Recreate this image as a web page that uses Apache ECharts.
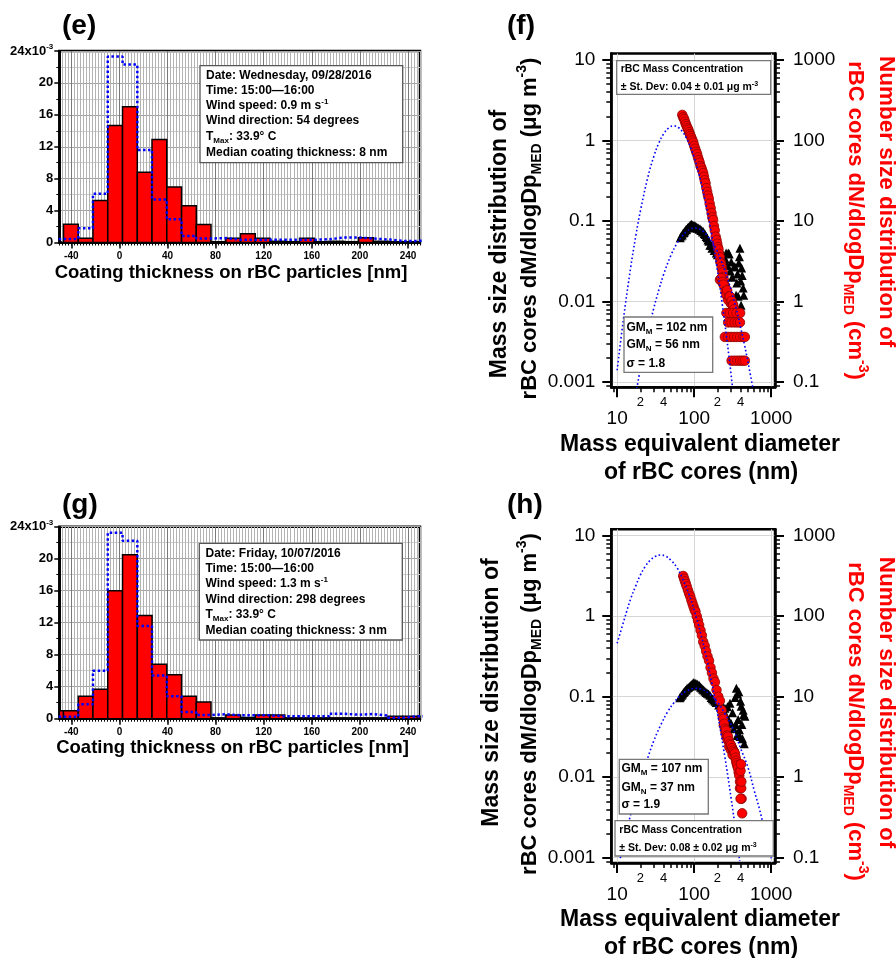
<!DOCTYPE html>
<html>
<head>
<meta charset="utf-8">
<script src="https://cdn.jsdelivr.net/npm/echarts@6/dist/echarts.min.js"></script>
<style>
html,body{margin:0;padding:0;background:#fff;}
#c{width:896px;height:958px;}
</style>
</head>
<body>
<div id="c"></div>
<script>
const FF = '"Liberation Sans", Arial, Helvetica, sans-serif';

// ---------- coating thickness histograms ----------
const binLeft = [-58.8, -46.5, -34.2, -22.0, -9.7, 2.6, 14.9, 27.1, 39.4, 51.7, 63.9, 76.2, 88.5,
  100.7, 113.0, 125.3, 137.5, 149.8, 162.1, 174.3, 186.6, 198.9, 211.1, 223.4, 235.7, 247.9];
const binWidth = 12.27;
// fraction of particles per bin (x10^-3)
const coatingE = [0, 2.3, 0.54, 5.25, 14.67, 17.0, 8.8, 12.9, 6.96, 4.6, 2.25, 0.1, 0.54,
  1.1, 0.54, 0.15, 0.1, 0.54, 0.1, 0.15, 0.1, 0.6, 0.15, 0.1, 0.1, 0.1];
const campaignE = [0.45, 0.45, 1.8, 6.1, 23.3, 22.3, 11.6, 5.4, 2.9, 0.83, 0.5, 0.55, 0.35,
  0.35, 0.35, 0.35, 0.35, 0.35, 0.4, 0.62, 0.62, 0.5, 0.38, 0.2, 0.2, 0.25];
const coatingG = [1.0, 1.0, 2.8, 3.67, 16.0, 20.5, 12.9, 6.8, 5.5, 2.8, 2.1, 0.1, 0.45,
  0.15, 0.45, 0.45, 0.1, 0.1, 0.1, 0.1, 0.1, 0.1, 0.1, 0.3, 0.3, 0.3];
const campaignG = [0.25, 0.25, 1.8, 6.0, 23.25, 22.25, 11.6, 5.4, 2.8, 0.83, 0.46, 0.55, 0.42,
  0.42, 0.42, 0.3, 0.3, 0.3, 0.3, 0.62, 0.5, 0.58, 0.38, 0.12, 0.3, 0.3];
const coatingTicks = [-40, 0, 40, 80, 120, 160, 200, 240];

const infoE = ['Date: Wednesday, 09/28/2016', 'Time: 15:00\u201416:00', 'Wind speed: 0.9 m s{p|-1}',
  'Wind direction: 54 degrees', 'T{s|Max}: 33.9\u00b0 C', 'Median coating thickness: 8 nm'];
const infoG = ['Date: Friday, 10/07/2016', 'Time: 15:00\u201416:00', 'Wind speed: 1.3 m s{p|-1}',
  'Wind direction: 298 degrees', 'T{s|Max}: 33.9\u00b0 C', 'Median coating thickness: 3 nm'];

// ---------- rBC core size distributions ----------
// [diameter nm, dN/dlogDp cm^-3]
const fCore = [[70,208],[72,194],[74,185],[76,171],[78,160],[80,151],[82,142],[84,136],[86,127],[88,120],
  [90,114],[92.5,106.5],[95,100],[97.5,94],[100,86],[103,79],[106,72.5],[109,68],[112,61.8],[115,57.1],
  [118,53],[121,48],[124,45.8],[127.5,42.2],[131,39.3],[134,35.5],[137,32.1],[140.5,29.5],[144,25.7],
  [147.5,23.0],[151,20.7],[155,18.9],[159,16.4],[163.5,14.5],[168,12.6],[172,11.1],[176,10.3],[180.5,8.67],
  [185,7.65],[190,6.4],[195,5.8],[199,5.24],[203,4.74],[207,4.45],[211,3.91],[215,3.56],[219,3.1],
  [223,2.97],[227,2.7],[231,2.45],[235,2.3],[239,2.02],[243,1.84],[247,1.6],[251,1.54],
  [216,1.86],[225,1.95],[233,1.75],[240,1.62],[255,1.35],[262,1.2],[268,1.38],[275,1.05],[282,1.16],
  [290,1.16],[298,0.95],[306,1.02],[314,0.91],[321,0.91],[330,0.8],
  [262,0.72],[290,0.72],[320,0.72],[355,0.72],[395,0.72],
  [276,0.55],[305,0.55],[335,0.55],[365,0.55],[393,0.55],
  [250,0.363],[275,0.363],[300,0.363],[330,0.363],[360,0.363],[395,0.363],[430,0.363],[455,0.363],
  [306,0.184],[335,0.184],[365,0.184],[395,0.184],[425,0.184],[455,0.184]];
// [diameter nm, dM/dlogDp ug m^-3]
const fMass = [[66,0.062],[68,0.065],[70,0.067],[72,0.071],[74,0.072],[76,0.075],[78,0.078],[80,0.079],
  [82,0.082],[84,0.084],[86,0.083],[88,0.087],[90,0.089],[92,0.091],[94,0.087],[96,0.089],[98,0.086],
  [100,0.088],[102,0.084],[104,0.086],[106,0.082],[108,0.084],[110,0.081],[113,0.082],[116,0.079],
  [119,0.080],[122,0.076],[125,0.077],[128,0.073],[131,0.074],[135,0.070],[139,0.068],[143,0.064],
  [147,0.062],[151,0.058],[155,0.056],[160,0.050],[165,0.050],[170,0.046],[176,0.047],[182,0.043],
  [188,0.044],[194,0.040],[200,0.038],[207,0.040],[214,0.035],[221,0.036],[228,0.032],[236,0.038],
  [244,0.030],[252,0.034],[260,0.040],[268,0.028],[277,0.040],[285,0.039],[294,0.024],[303,0.031],
  [312,0.020],[321,0.0079],[330,0.027],[338,0.027],[345,0.0055],[350,0.012],[358,0.017],[365,0.022],
  [372,0.0116],[380,0.030],[387,0.036],[393,0.046],[400,0.018],[406,0.009],[413,0.026],[420,0.021],
  [432,0.0147],[440,0.012]];
const fMassFit = [[18,0.00083],[20,0.00144],[25,0.00403],[30,0.00835],[35,0.0142],[40,0.0215],[50,0.0377],
  [60,0.0531],[70,0.065],[80,0.0746],[90,0.080],[102,0.0817],[115,0.080],[130,0.0747],[150,0.065],
  [170,0.0551],[195,0.044],[220,0.0334],[260,0.022],[300,0.014],[350,0.0083],[400,0.0048],[450,0.0029],
  [500,0.00176],[580,0.00083]];
const fNumFit = [[10,0.14],[12,0.58],[15,2.66],[17.5,6.6],[20,13.2],[25,34.8],[30,63.8],[35,94.4],[40,120],
  [47,144],[55,152],[63,144],[70,130],[80,106],[90,82],[100,61.8],[115,38.9],[130,24],[150,12.5],
  [170,6.5],[200,2.46],[230,0.97],[260,0.40],[290,0.17],[315,0.085]];

const hCore = [[72,316],[74,292],[76,271],[78,252],[80,234],[83,211],[86,191],[89,176],[92,158],[95,144],
  [98,132],[101,121],[104,114],[108,100],[112,88],[116,77.5],[121,66.6],[126,57.7],[131,48],[137,42.8],
  [143,36.7],[149,31.7],[156,28],[163,23.0],[170,19.8],[178,16.8],[186,15.2],[195,12.1],[206,10.0],
  [216,8.9],[227,6.8],[235,5.6],[238,5.3],[242,4.4],[245,4.6],[251,4.0],[255,3.6],[258,3.8],[262,3.2],
  [266,3.3],[272,2.9],[275,3.2],[283,2.8],[285,2.4],[291,2.6],[298,2.2],[300,2.5],[310,2.3],[315,1.9],
  [320,2.15],[330,2.05],[338,1.97],[345,1.75],[350,1.6],[355,1.49],[362,1.4],[370,1.3],[378,1.15],
  [385,1.05],[393,0.88],[400,1.2],[405,1.45],[393,0.73],[408,0.73],[413,0.54],[400,0.54],[420,0.356],
  [410,0.88]];
const hMass = [[65,0.097],[67,0.100],[69,0.104],[71,0.108],[73,0.113],[75,0.116],[77,0.120],[79,0.122],
  [81,0.127],[84,0.130],[87,0.134],[90,0.138],[93,0.142],[96,0.146],[99,0.150],[102,0.144],[105,0.147],
  [108,0.141],[111,0.143],[114,0.136],[117,0.138],[121,0.131],[125,0.128],[129,0.124],[133,0.121],
  [138,0.117],[143,0.113],[148,0.110],[154,0.108],[160,0.104],[166,0.098],[172,0.094],[179,0.091],
  [186,0.088],[193,0.085],[200,0.089],[208,0.079],[216,0.083],[224,0.071],[233,0.077],[242,0.064],
  [251,0.072],[261,0.058],[271,0.075],[281,0.051],[292,0.083],[303,0.046],[315,0.063],[327,0.040],
  [335,0.024],[340,0.098],[347,0.045],[353,0.127],[360,0.033],[366,0.108],[373,0.052],[380,0.115],
  [387,0.039],[393,0.032],[400,0.088],[408,0.076],[416,0.045],[424,0.030],[432,0.068],[440,0.060],
  [447,0.026],[455,0.057]];
const hMassFit = [[11,0.00099],[12,0.00143],[15,0.00344],[20,0.00927],[25,0.0175],[30,0.0285],[37,0.045],
  [45,0.0643],[55,0.085],[65,0.102],[80,0.118],[105,0.127],[130,0.122],[160,0.107],[200,0.086],
  [250,0.0616],[320,0.040],[400,0.0229],[500,0.0132],[600,0.0069],[700,0.0041],[790,0.00256],
  [900,0.0015],[1000,0.00098]];
const hNumFit = [[10,46],[12.5,94],[15,165],[17.5,240],[20,324],[23,410],[27,497],[31,550],[36.6,575],
  [43,555],[50,494],[60,400],[70,299],[85,190],[100,119],[120,64],[140,34.8],[170,14.6],[200,6.38],
  [225,3.3],[250,1.8],[275,1.0],[300,0.57],[330,0.3],[355,0.18],[390,0.091]];

const diamTicks = [10, 100, 1000];
const diamDigitTicks = [20, 40, 200, 400];
const massTicks = [0.001, 0.01, 0.1, 1, 10];
const numTicks = [0.1, 1, 10, 100, 1000];

// ---------- helpers ----------
function fineTicks(lo, hi, step) {
  const out = [];
  for (let v = lo; v <= hi + 1e-9; v += step) out.push(+v.toFixed(3));
  return out;
}
function logMinorTicks(lo, hi) {
  const out = [];
  for (let e = -5; e <= 4; e++) {
    for (let m = 2; m <= 9; m++) {
      const v = +(m * Math.pow(10, e)).toPrecision(3);
      if (v >= lo && v <= hi) out.push(v);
    }
  }
  return out;
}
const numFmt = v => String(+(+v).toPrecision(4));
const digitFmt = v => String(Math.round(v / Math.pow(10, Math.floor(Math.log10(v) + 1e-9))));

const grid = [
  {left: 59.3, top: 51, width: 360.7, height: 191.5},
  {left: 59.3, top: 526.7, width: 360.7, height: 192},
  {left: 611.3, top: 53.6, width: 163.7, height: 333.7},
  {left: 611.3, top: 529.3, width: 163.7, height: 333.7}
].map(g => Object.assign({show: true, borderColor: '#000', borderWidth: 2.5, backgroundColor: '#fff',
  containLabel: false, outerBoundsMode: 'none'}, g));

const xAxis = [], yAxis = [], series = [];
const blk = '#000';

function histPanel(gi, counts, campaign) {
  const xi = xAxis.length;
  const xBase = {type: 'value', gridIndex: gi, min: -50, max: 250, position: 'bottom'};
  xAxis.push(Object.assign({}, xBase, {
    axisLine: {show: true, onZero: false, lineStyle: {color: blk, width: 2}},
    axisTick: {show: true, customValues: fineTicks(-50, 250, 2.5), length: 3, lineStyle: {color: blk, width: 1}},
    axisLabel: {show: true, customValues: coatingTicks, margin: 9, color: blk, fontFamily: FF, fontWeight: 'bold', fontSize: 10},
    splitLine: {show: true, customValues: fineTicks(-50, 250, 2.5), lineStyle: {color: '#b2b2b2', width: 1}}
  }));
  xAxis.push(Object.assign({}, xBase, {
    axisLine: {show: false, onZero: false},
    axisTick: {show: true, customValues: coatingTicks, length: 6, lineStyle: {color: blk, width: 1.5}},
    axisLabel: {show: false},
    splitLine: {show: true, customValues: coatingTicks, lineStyle: {color: '#7a7a7a', width: 1}}
  }));
  const yi = yAxis.length;
  yAxis.push({
    type: 'value', gridIndex: gi, min: 0, max: 24, interval: 4, position: 'left',
    axisLine: {show: true, onZero: false, lineStyle: {color: blk, width: 2}},
    axisTick: {show: true, length: 5, lineStyle: {color: blk, width: 1.5}},
    minorTick: {show: true, splitNumber: 2, length: 3, lineStyle: {color: blk, width: 1}},
    axisLabel: {
      margin: 6, color: blk, fontFamily: FF, fontWeight: 'bold', fontSize: 13,
      formatter: v => v === 24 ? '{a|24x10}{b|-3}' : String(v),
      rich: {
        a: {fontFamily: FF, fontWeight: 'bold', fontSize: 13, color: blk, lineHeight: 16},
        b: {fontFamily: FF, fontWeight: 'bold', fontSize: 8, color: blk, lineHeight: 8, verticalAlign: 'top'}
      }
    },
    splitLine: {show: true, lineStyle: {color: '#a0a0a0', width: 1}},
    minorSplitLine: {show: true, lineStyle: {color: '#cccccc', width: 1}}
  });
  series.push({
    type: 'custom', xAxisIndex: xi, yAxisIndex: yi, z: 3,
    data: binLeft.map((x, i) => [x, counts[i]]),
    encode: {x: 0, y: 1},
    renderItem(params, api) {
      const x0 = api.value(0), v = api.value(1);
      const p0 = api.coord([x0, v]);
      const p1 = api.coord([x0 + binWidth, 0]);
      const cs = params.coordSys;
      const r = echarts.graphic.clipRectByRect(
        {x: p0[0], y: p0[1], width: p1[0] - p0[0], height: p1[1] - p0[1]},
        {x: cs.x, y: cs.y, width: cs.width, height: cs.height});
      if (!r) return null;
      return {type: 'rect', shape: r, style: {fill: '#ff0000', stroke: blk, lineWidth: 1.5}};
    }
  });
  const last = binLeft.length - 1;
  series.push({
    type: 'line', xAxisIndex: xi, yAxisIndex: yi, z: 5, step: 'end', symbol: 'none', silent: true,
    data: binLeft.map((x, i) => [x, campaign[i]]).concat([[binLeft[last] + binWidth, campaign[last]]]),
    lineStyle: {color: '#0000ff', width: 2.5, type: [2.5, 2.5]}
  });
}

function sizePanel(gi, massPts, corePts, massFit, numFit) {
  const xi = xAxis.length;
  const xBase = {type: 'log', logBase: 10, gridIndex: gi, min: 8.4, max: 1120, position: 'bottom'};
  xAxis.push(Object.assign({}, xBase, {
    axisLine: {show: true, onZero: false, lineStyle: {color: blk, width: 2.5}},
    axisTick: {show: true, customValues: diamTicks, length: 10, lineStyle: {color: blk, width: 2}},
    axisLabel: {show: true, customValues: diamTicks, margin: 22, color: blk, fontFamily: FF, fontSize: 19, formatter: numFmt},
    splitLine: {show: true, customValues: diamTicks, lineStyle: {color: '#d6d6d6', width: 1}}
  }));
  xAxis.push(Object.assign({}, xBase, {
    axisLine: {show: false, onZero: false},
    axisTick: {show: true, customValues: logMinorTicks(8.4, 1120), length: 5, lineStyle: {color: blk, width: 1.5}},
    axisLabel: {show: true, customValues: diamDigitTicks, margin: 9, color: blk, fontFamily: FF, fontSize: 13, formatter: digitFmt},
    splitLine: {show: false}
  }));
  const yl = yAxis.length;
  const lBase = {type: 'log', logBase: 10, gridIndex: gi, min: 0.00086, max: 12, position: 'left'};
  const rBase = {type: 'log', logBase: 10, gridIndex: gi, min: 0.086, max: 1200, position: 'right'};
  yAxis.push(Object.assign({}, lBase, {
    axisLine: {show: true, onZero: false, lineStyle: {color: blk, width: 2.5}},
    axisTick: {show: true, customValues: massTicks, length: 9, lineStyle: {color: blk, width: 2}},
    axisLabel: {show: true, customValues: massTicks, margin: 16, color: blk, fontFamily: FF, fontSize: 19, formatter: numFmt},
    splitLine: {show: true, customValues: massTicks, lineStyle: {color: '#d6d6d6', width: 1}}
  }));
  yAxis.push(Object.assign({}, lBase, {
    axisLine: {show: false, onZero: false},
    axisTick: {show: true, customValues: logMinorTicks(0.00086, 12), length: 5, lineStyle: {color: blk, width: 1.5}},
    axisLabel: {show: false}, splitLine: {show: false}
  }));
  yAxis.push(Object.assign({}, rBase, {
    axisLine: {show: true, onZero: false, lineStyle: {color: blk, width: 2.5}},
    axisTick: {show: true, customValues: numTicks, length: 9, lineStyle: {color: blk, width: 2}},
    axisLabel: {show: true, customValues: numTicks, margin: 18, color: blk, fontFamily: FF, fontSize: 19, formatter: numFmt},
    splitLine: {show: false}
  }));
  yAxis.push(Object.assign({}, rBase, {
    axisLine: {show: false, onZero: false},
    axisTick: {show: true, customValues: logMinorTicks(0.086, 1200), length: 5, lineStyle: {color: blk, width: 1.5}},
    axisLabel: {show: false}, splitLine: {show: false}
  }));
  series.push({type: 'scatter', xAxisIndex: xi, yAxisIndex: yl, z: 2, data: massPts,
    symbol: 'triangle', symbolSize: 9, itemStyle: {color: '#000', opacity: 1}});
  series.push({type: 'scatter', xAxisIndex: xi, yAxisIndex: yl + 2, z: 3, data: corePts,
    symbol: 'circle', symbolSize: 9.5, itemStyle: {color: '#ff0000', borderColor: '#8a0000', borderWidth: 0.8, opacity: 1}});
  const fitLine = {color: '#0000ff', width: 1.6, type: [1.6, 2.4]};
  series.push({type: 'line', xAxisIndex: xi, yAxisIndex: yl, z: 4, data: massFit, smooth: 0.4,
    symbol: 'none', silent: true, lineStyle: fitLine});
  series.push({type: 'line', xAxisIndex: xi, yAxisIndex: yl + 2, z: 4, data: numFit, smooth: 0.4,
    symbol: 'none', silent: true, lineStyle: fitLine});
}

histPanel(0, coatingE, campaignE);
histPanel(1, coatingG, campaignG);
sizePanel(2, fMass, fCore, fMassFit, fNumFit);
sizePanel(3, hMass, hCore, hMassFit, hNumFit);

// ---------- text elements ----------
function richSet(size, color, weight) {
  const sub = Math.round(size * 0.64);
  return {
    s: {font: weight + ' ' + sub + 'px ' + FF, fill: color, lineHeight: sub, verticalAlign: 'bottom'},
    p: {font: weight + ' ' + sub + 'px ' + FF, fill: color, lineHeight: sub, verticalAlign: 'top'}
  };
}
function txt(x, y, text, size, o) {
  o = o || {};
  const color = o.color || '#000', weight = o.weight || 'bold';
  return {type: 'text', x: x, y: y, rotation: o.rot || 0, z: 100, silent: true,
    style: {text: text, fill: color, font: weight + ' ' + size + 'px ' + FF, lineHeight: Math.round(size * 1.3),
      align: o.align || 'left', verticalAlign: 'middle', rich: richSet(size, color, weight)}};
}
function box(x, y, w, h, stroke) {
  return {type: 'rect', z: 90, silent: true, shape: {x: x, y: y, width: w, height: h},
    style: {fill: '#fff', stroke: stroke || '#555', lineWidth: 1.3}};
}

const G = [];
// panel letters
G.push(txt(62, 26, '(e)', 28), txt(507, 26, '(f)', 28), txt(62, 505.5, '(g)', 28), txt(507, 505.5, '(h)', 28));
// histogram axis titles
G.push(txt(231, 272.7, 'Coating thickness on rBC particles [nm]', 18.5, {align: 'center'}));
G.push(txt(232.5, 747.7, 'Coating thickness on rBC particles [nm]', 18.5, {align: 'center'}));
// histogram info boxes
G.push(box(200, 65.7, 202.7, 97));
[76, 91, 106, 121, 137, 153].forEach((y, i) => G.push(txt(206, y, infoE[i], 12)));
G.push(box(199.3, 543.3, 203, 96.7));
[553.5, 568.7, 584, 599.3, 614.7, 630.5].forEach((y, i) => G.push(txt(205.5, y, infoG[i], 12)));

// size distribution panels: axis titles and annotation boxes
function sizeTexts(l1x, l1y, l2y, r1y, r2y, xt1, xt2) {
  G.push(txt(l1x, l1y, 'Mass size distribution of', 23, {align: 'center', rot: Math.PI / 2}));
  G.push(txt(530, l2y, 'rBC cores dM/dlogDp{s|MED} (\u03bcg m{p|-3})', 22, {align: 'center', rot: Math.PI / 2}));
  G.push(txt(886.7, r1y, 'Number size distribution of', 22.5, {align: 'center', rot: -Math.PI / 2, color: '#ff0000'}));
  G.push(txt(855, r2y, 'rBC cores dN/dlogDp{s|MED} (cm{p|-3})', 22, {align: 'center', rot: -Math.PI / 2, color: '#ff0000'}));
  G.push(txt(700, xt1, 'Mass equivalent diameter', 23, {align: 'center'}));
  G.push(txt(701, xt2, 'of rBC cores (nm)', 23, {align: 'center'}));
}
sizeTexts(500, 244, 228.5, 201.7, 220.5, 445, 473);
sizeTexts(491.7, 692.5, 704, 702.5, 721.5, 920, 948);

G.push(box(616.7, 60.7, 154, 33.6, '#777'));
G.push(txt(620.7, 69.5, 'rBC Mass Concentration', 10.5));
G.push(txt(620.7, 87.3, '\u00b1 St. Dev: 0.04 \u00b1 0.01 \u03bcg m{p|-3}', 10.5));
G.push(box(624, 317, 88.7, 55.3, '#777'));
G.push(txt(626.5, 327.3, 'GM{s|M} = 102 nm', 12));
G.push(txt(626.5, 345, 'GM{s|N} = 56 nm', 12));
G.push(txt(626.5, 363.3, '\u03c3 = 1.8', 12));

G.push(box(619.3, 759.3, 89, 54.7, '#777'));
G.push(txt(621.5, 769, 'GM{s|M} = 107 nm', 12));
G.push(txt(621.5, 787.3, 'GM{s|N} = 37 nm', 12));
G.push(txt(621.5, 805, '\u03c3 = 1.9', 12));
G.push(box(615, 820.7, 158.3, 35.3, '#777'));
G.push(txt(619.3, 830, 'rBC Mass Concentration', 10.5));
G.push(txt(619.3, 848.5, '\u00b1 St. Dev: 0.08 \u00b1 0.02 \u03bcg m{p|-3}', 10.5));

const chart = echarts.init(document.getElementById('c'), null, {renderer: 'canvas', width: 896, height: 958});
chart.setOption({
  animation: false,
  backgroundColor: '#fff',
  grid: grid,
  xAxis: xAxis,
  yAxis: yAxis,
  series: series,
  graphic: {elements: G}
});
</script>
</body>
</html>
